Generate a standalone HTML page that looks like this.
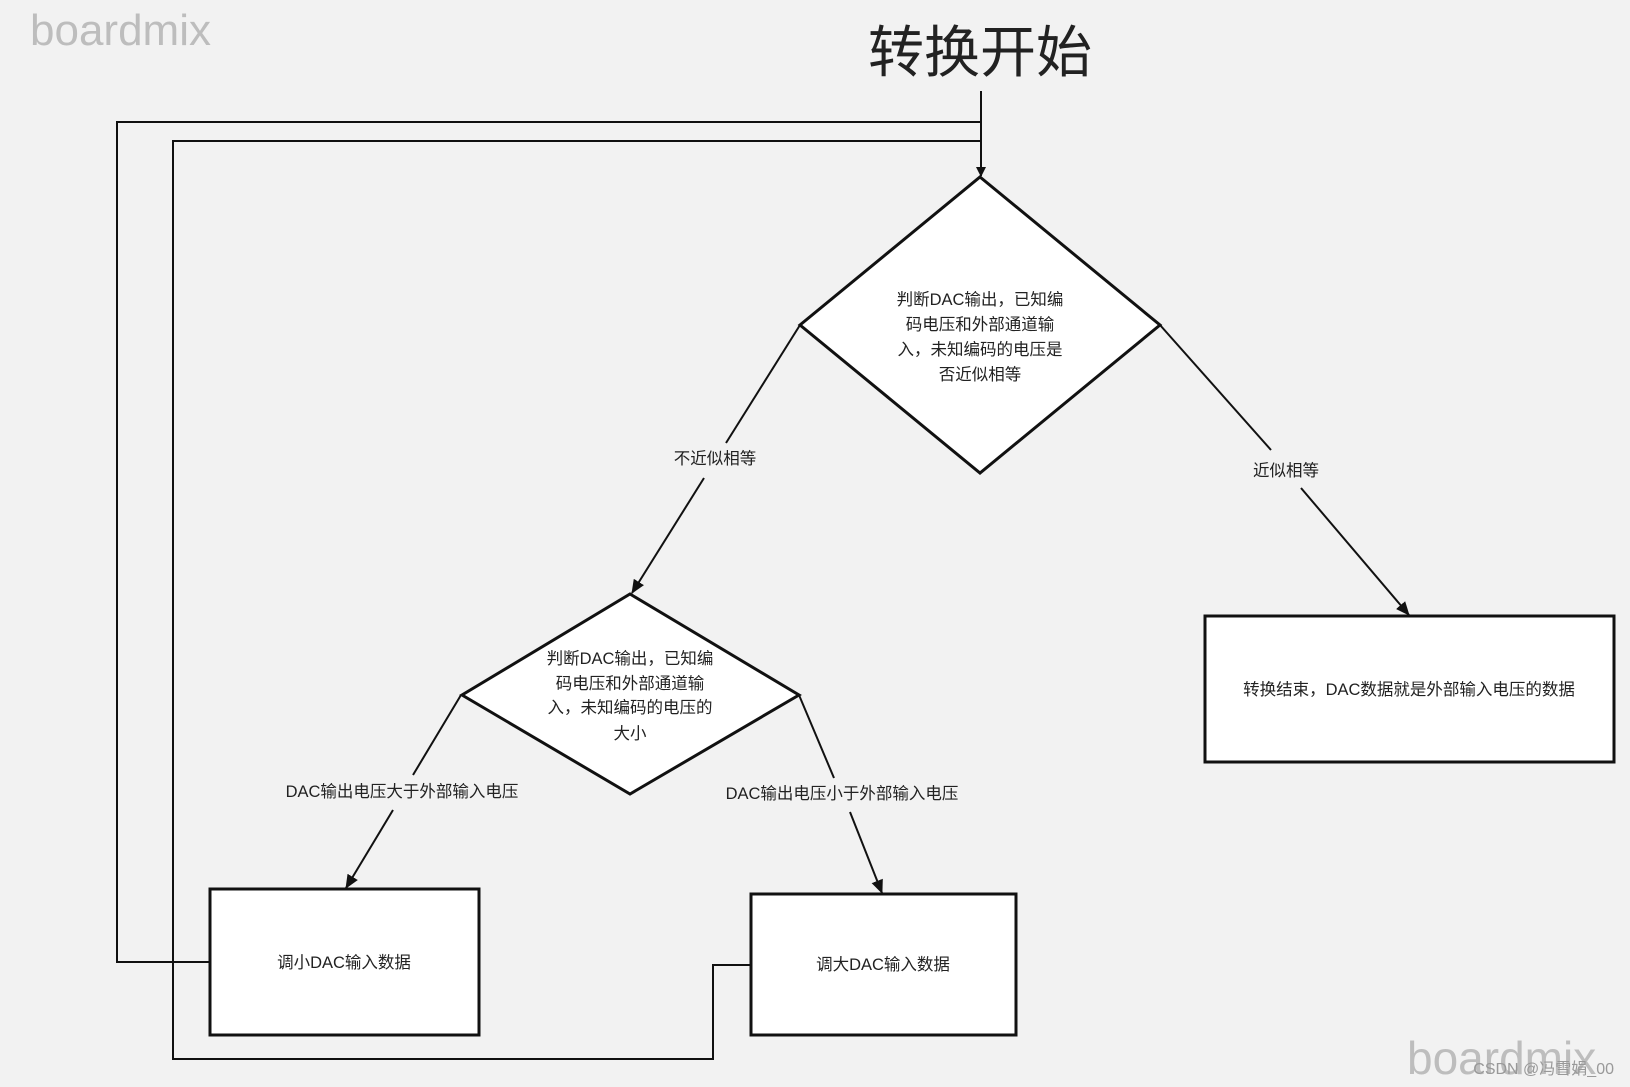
<!DOCTYPE html>
<html><head><meta charset="utf-8"><style>
html,body{margin:0;padding:0;background:#f2f2f2;}
svg{display:block;}
text{font-family:"Liberation Sans","Noto Sans CJK SC",sans-serif;fill:#222;}
</style></head><body>
<svg width="1630" height="1087" viewBox="0 0 1630 1087" xmlns="http://www.w3.org/2000/svg">
<defs>
<marker id="a" markerWidth="10" markerHeight="10" refX="9" refY="5" orient="auto" markerUnits="userSpaceOnUse"><path d="M0,0 L10,5 L0,10 z" fill="#111"/></marker>
<marker id="b" markerWidth="14" markerHeight="14" refX="13" refY="7" orient="auto" markerUnits="userSpaceOnUse"><path d="M0,1 L14,7 L0,13 z" fill="#111"/></marker>
</defs>
<rect width="1630" height="1087" fill="#f2f2f2"/>
<text x="30" y="45" font-size="44" style="fill:#bdbdbd">boardmix</text>
<text x="980" y="72" font-size="56" text-anchor="middle">转换开始</text>

<g stroke="#111" stroke-width="2" fill="none">
<line x1="981" y1="91" x2="981" y2="176" marker-end="url(#a)"/>
<polyline points="210,962 117,962 117,122 981,122"/>
<polyline points="751,965 713,965 713,1059 173,1059 173,141 981,141"/>
</g>

<polygon points="980,177 1160,325 980,473 800,325" fill="#fff" stroke="#111" stroke-width="3"/>
<text font-size="16.5" text-anchor="middle"><tspan x="980" y="305">判断DAC输出，已知编</tspan><tspan x="980" y="330">码电压和外部通道输</tspan><tspan x="980" y="355">入，未知编码的电压是</tspan><tspan x="980" y="380">否近似相等</tspan></text>

<polygon points="630,594 799,695 630,794 462,695" fill="#fff" stroke="#111" stroke-width="3"/>
<text font-size="16.5" text-anchor="middle"><tspan x="630" y="664">判断DAC输出，已知编</tspan><tspan x="630" y="689">码电压和外部通道输</tspan><tspan x="630" y="713">入，未知编码的电压的</tspan><tspan x="630" y="739">大小</tspan></text>

<g stroke="#111" stroke-width="2" fill="none">
<polyline points="800,325 726,443"/>
<line x1="704" y1="478" x2="632" y2="593" marker-end="url(#b)"/>
<polyline points="1160,325 1271,450"/>
<line x1="1301" y1="488" x2="1409" y2="615" marker-end="url(#b)"/>
<polyline points="461,695 413,775"/>
<line x1="393" y1="810" x2="346" y2="888" marker-end="url(#b)"/>
<polyline points="799,695 834,778"/>
<line x1="850" y1="812" x2="882" y2="893" marker-end="url(#b)"/>
</g>
<text x="715" y="464" font-size="16.5" text-anchor="middle">不近似相等</text>
<text x="1286" y="476" font-size="16.5" text-anchor="middle">近似相等</text>
<text x="402" y="797" font-size="16.5" text-anchor="middle">DAC输出电压大于外部输入电压</text>
<text x="842" y="799" font-size="16.5" text-anchor="middle">DAC输出电压小于外部输入电压</text>

<rect x="1205" y="616" width="409" height="146" fill="#fff" stroke="#111" stroke-width="3"/>
<text x="1409" y="695" font-size="16.5" text-anchor="middle">转换结束，DAC数据就是外部输入电压的数据</text>
<rect x="210" y="889" width="269" height="146" fill="#fff" stroke="#111" stroke-width="3"/>
<text x="344" y="968" font-size="16.5" text-anchor="middle">调小DAC输入数据</text>
<rect x="751" y="894" width="265" height="141" fill="#fff" stroke="#111" stroke-width="3"/>
<text x="883" y="970" font-size="16.5" text-anchor="middle">调大DAC输入数据</text>

<text x="1407" y="1074" font-size="46" style="fill:#bdbdbd">boardmix</text>
<text x="1614" y="1074" font-size="16" text-anchor="end" style="fill:#999">CSDN @冯雪娟_00</text>
</svg>
</body></html>
